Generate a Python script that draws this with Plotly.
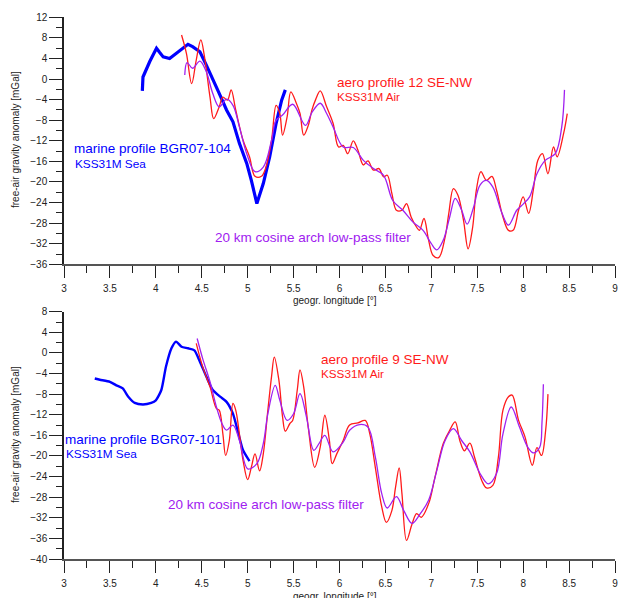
import plotly.graph_objects as go

# ---------------- data: upper panel (profile 12 / BGR07-104) ----------------
top_marine_lon = [3.853, 3.86, 3.934, 4.007, 4.04, 4.08, 4.15, 4.22, 4.30, 4.35, 4.40, 4.48, 4.55,
                  4.62, 4.69, 4.77, 4.84, 4.91, 4.99, 5.04, 5.10, 5.17, 5.24, 5.31, 5.37, 5.41]
top_marine_val = [-2.3, 0.4, 3.4, 6.0, 5.2, 4.3, 4.0, 5.0, 6.0, 6.75, 6.3, 5.3, 2.7,
                  -0.2, -2.8, -6.0, -8.3, -12.5, -16.4, -19.7, -24.2, -20.3, -15.1, -8.6, -4.1, -2.1]

top_aero_lon = [4.28, 4.333, 4.39, 4.44, 4.49, 4.53, 4.59, 4.63, 4.69, 4.73, 4.78, 4.82, 4.87, 4.95,
                5.02, 5.08, 5.15, 5.20, 5.26, 5.31, 5.35, 5.38, 5.43, 5.47, 5.53, 5.57, 5.61, 5.66,
                5.70, 5.74, 5.79, 5.86, 5.93, 5.99, 6.04, 6.09, 6.15, 6.20, 6.26, 6.31, 6.37, 6.43,
                6.48, 6.52, 6.57, 6.62, 6.68, 6.73, 6.78, 6.84, 6.87, 6.92, 6.97, 7.02, 7.08, 7.15,
                7.19, 7.24, 7.29, 7.35, 7.40, 7.45, 7.49, 7.54, 7.60, 7.66, 7.71, 7.78, 7.84, 7.89,
                7.95, 8.00, 8.06, 8.11, 8.16, 8.21, 8.27, 8.33, 8.37, 8.44, 8.48]
top_aero_val = [8.56, 5.0, -0.9, 3.7, 7.6, 4.3, -3.5, -7.7, -5.4, -3.5, -4.1, -2.1, -6.0, -11.9,
                -15.1, -18.9, -18.9, -17.1, -11.9, -5.1, -6.7, -10.9, -7.3, -2.5, -4.7, -6.7, -10.9, -9.0,
                -6.0, -4.0, -2.3, -5.4, -8.6, -13.2, -12.9, -14.5, -12.0, -13.8, -16.7, -15.9, -17.7, -17.4,
                -19.0, -18.7, -22.2, -25.5, -25.5, -24.2, -26.8, -28.8, -29.4, -27.1, -31.3, -34.3, -34.7, -30.7,
                -26.1, -21.3, -22.6, -27.4, -33.0, -28.8, -21.6, -18.0, -19.7, -18.9, -21.6, -26.8, -29.4, -29.4,
                -25.5, -22.9, -26.1, -21.6, -15.8, -14.5, -18.4, -13.2, -15.1, -10.6, -6.7]

top_filter_lon = [4.315, 4.34, 4.40, 4.48, 4.55, 4.62, 4.69, 4.77, 4.84, 4.91, 4.99, 5.08, 5.17, 5.26,
                  5.31, 5.38, 5.49, 5.63, 5.70, 5.79, 5.86, 5.93, 6.04, 6.15, 6.26, 6.37, 6.48, 6.58,
                  6.69, 6.80, 6.91, 7.00, 7.06, 7.13, 7.20, 7.26, 7.33, 7.39, 7.46, 7.53, 7.60, 7.67,
                  7.77, 7.84, 7.93, 8.00, 8.07, 8.15, 8.24, 8.35, 8.42, 8.45]
top_filter_val = [0.8, 3.2, 2.1, 3.5, 1.4, -2.8, -5.4, -3.9, -5.1, -9.3, -14.5, -18.0, -17.1, -11.9,
                  -8.0, -7.0, -4.9, -9.0, -6.5, -4.7, -6.7, -9.3, -13.2, -13.3, -15.8, -17.4, -18.7, -23.6,
                  -25.5, -27.8, -29.4, -32.0, -33.2, -31.3, -26.8, -23.2, -25.5, -28.2, -24.9, -20.6, -19.7, -21.0,
                  -26.1, -28.4, -25.5, -24.3, -22.9, -18.4, -15.8, -14.5, -9.3, -2.1]

# ---------------- data: lower panel (profile 9 / BGR07-101) ----------------
bot_marine_lon = [3.335, 3.39, 3.50, 3.57, 3.64, 3.70, 3.77, 3.86, 3.95, 4.00, 4.06, 4.11, 4.17,
                  4.22, 4.28, 4.35, 4.42, 4.48, 4.55, 4.62, 4.70, 4.77, 4.84, 4.90, 4.95, 5.02]
bot_marine_val = [-4.97, -5.2, -5.6, -6.3, -6.9, -8.5, -9.7, -10.0, -9.7, -9.2, -7.2, -2.7, 0.9,
                  2.2, 1.2, 0.9, 0.5, -1.7, -4.6, -7.2, -8.5, -9.5, -11.8, -15.7, -18.9, -21.0]

bot_aero_lon = [4.44, 4.51, 4.59, 4.66, 4.69, 4.73, 4.76, 4.80, 4.84, 4.87, 4.91, 4.95, 5.00, 5.04,
                5.08, 5.13, 5.17, 5.22, 5.26, 5.29, 5.34, 5.38, 5.41, 5.46, 5.49, 5.54, 5.57, 5.61,
                5.66, 5.73, 5.79, 5.84, 5.89, 5.92, 5.97, 6.04, 6.11, 6.20, 6.28, 6.33, 6.39, 6.46,
                6.51, 6.57, 6.61, 6.65, 6.68, 6.73, 6.79, 6.84, 6.89, 6.97, 7.04, 7.13, 7.20, 7.26,
                7.31, 7.36, 7.42, 7.47, 7.55, 7.60, 7.67, 7.73, 7.78, 7.84, 7.88, 7.95, 8.02, 8.10,
                8.15, 8.20, 8.245, 8.27]
bot_aero_val = [1.85, -2.7, -6.6, -10.8, -11.1, -15.7, -19.9, -17.0, -9.8, -11.1, -15.7, -20.9, -24.6, -22.2,
                -19.6, -22.9, -19.6, -11.1, -4.6, -0.8, -5.3, -12.4, -15.2, -13.7, -13.1, -7.2, -3.3, -6.6,
                -14.5, -22.2, -18.3, -12.1, -17.0, -21.5, -19.6, -17.0, -14.0, -13.6, -13.1, -15.7, -22.2, -29.9,
                -32.9, -30.6, -26.1, -22.3, -27.3, -36.4, -33.2, -31.2, -31.9, -29.3, -24.1, -17.6, -15.0, -13.4,
                -17.0, -19.0, -17.5, -20.2, -24.8, -26.2, -25.7, -20.2, -11.1, -8.5, -8.2, -13.1, -16.3, -21.8,
                -18.4, -19.9, -15.0, -8.0]

bot_filter_lon = [4.45, 4.51, 4.59, 4.66, 4.72, 4.77, 4.84, 4.91, 5.00, 5.10, 5.17, 5.22, 5.30, 5.35,
                  5.43, 5.50, 5.57, 5.64, 5.72, 5.78, 5.84, 5.93, 6.04, 6.11, 6.22, 6.31, 6.39, 6.46,
                  6.52, 6.62, 6.70, 6.79, 6.88, 6.97, 7.06, 7.15, 7.24, 7.33, 7.42, 7.53, 7.62, 7.71,
                  7.78, 7.87, 7.96, 8.05, 8.11, 8.18, 8.205, 8.22]
bot_filter_val = [2.8, -1.1, -5.6, -10.5, -13.7, -15.0, -14.0, -17.0, -22.5, -21.5, -17.6, -11.8, -6.3, -9.2,
                  -13.1, -11.8, -7.9, -12.4, -18.9, -17.5, -16.0, -19.2, -17.3, -15.0, -13.9, -14.4, -20.2, -27.3,
                  -30.1, -27.9, -30.6, -33.1, -31.2, -28.6, -22.8, -17.0, -14.7, -17.0, -19.2, -23.4, -25.4, -23.4,
                  -15.7, -10.5, -14.4, -18.3, -19.4, -18.3, -13.5, -6.1]

x_tick_vals = [3, 3.5, 4, 4.5, 5, 5.5, 6, 6.5, 7, 7.5, 8, 8.5, 9]
x_tick_text = ["3", "3.5", "4", "4.5", "5", "5.5", "6", "6.5", "7", "7.5", "8", "8.5", "9"]
top_y_ticks = [12, 8, 4, 0, -4, -8, -12, -16, -20, -24, -28, -32, -36]
bot_y_ticks = [8, 4, 0, -4, -8, -12, -16, -20, -24, -28, -32, -36, -40]

BLUE = "#0000FF"
RED = "#FF1A1A"
PURPLE = "#A020F0"
FONT = "Liberation Sans, Arial, sans-serif"

W, H = 619, 598
L, R = 64, 4

fig = go.Figure()
fig.add_trace(go.Scatter(x=top_marine_lon, y=top_marine_val, mode="lines",
                         line=dict(color=BLUE, width=3.2), xaxis="x", yaxis="y"))
fig.add_trace(go.Scatter(x=top_aero_lon, y=top_aero_val, mode="lines",
                         line=dict(color=RED, width=1.3, shape="spline", smoothing=1.0), xaxis="x", yaxis="y"))
fig.add_trace(go.Scatter(x=top_filter_lon, y=top_filter_val, mode="lines",
                         line=dict(color=PURPLE, width=1.3, shape="spline", smoothing=1.0), xaxis="x", yaxis="y"))
fig.add_trace(go.Scatter(x=bot_marine_lon, y=bot_marine_val, mode="lines",
                         line=dict(color=BLUE, width=2.4, shape="spline", smoothing=0.6), xaxis="x2", yaxis="y2"))
fig.add_trace(go.Scatter(x=bot_aero_lon, y=bot_aero_val, mode="lines",
                         line=dict(color=RED, width=1.3, shape="spline", smoothing=1.0), xaxis="x2", yaxis="y2"))
fig.add_trace(go.Scatter(x=bot_filter_lon, y=bot_filter_val, mode="lines",
                         line=dict(color=PURPLE, width=1.3, shape="spline", smoothing=1.0), xaxis="x2", yaxis="y2"))


def py2paper(py):
    return 1 - py / H


def px2paper(px):
    return (px - L) / (W - L - R)


xaxis_common = dict(range=[3, 9], tickvals=x_tick_vals, ticktext=x_tick_text, ticks="outside",
                    ticklen=12, tickwidth=1.2, tickcolor="#222", showline=True, linecolor="#555",
                    linewidth=2, showgrid=False, zeroline=False, ticklabelstandoff=2, automargin=False,
                    tickfont=dict(family=FONT, size=10, color="#222"),
                    minor=dict(dtick=0.25, tick0=3, ticks="outside", ticklen=7, tickwidth=1.2,
                               tickcolor="#222", showgrid=False))
yaxis_common = dict(ticks="outside", ticklen=13, tickwidth=1.2, tickcolor="#222", showline=True,
                    linecolor="#222", linewidth=1.5, showgrid=False, zeroline=False, automargin=False,
                    tickfont=dict(family=FONT, size=10, color="#222"),
                    minor=dict(dtick=2, ticks="outside", ticklen=6, tickwidth=1.2,
                               tickcolor="#222", showgrid=False))

fig.update_layout(
    width=W, height=H,
    margin=dict(l=L, r=R, t=0, b=0, autoexpand=False),
    paper_bgcolor="white", plot_bgcolor="white",
    showlegend=False,
    font=dict(family=FONT, size=10, color="#222"),
    xaxis=dict(domain=[0, 1], anchor="y", **xaxis_common),
    yaxis=dict(domain=[py2paper(264.3), py2paper(17.3)], anchor="x", range=[-36, 12],
               tickvals=top_y_ticks, **yaxis_common),
    xaxis2=dict(domain=[0, 1], anchor="y2", **xaxis_common),
    yaxis2=dict(domain=[py2paper(559), py2paper(311.7)], anchor="x2", range=[-40, 8],
                tickvals=bot_y_ticks, **yaxis_common),
)

ann = []


def label(text, px, py, color, size, xanchor="left", angle=0):
    ann.append(dict(text=text, x=px2paper(px), y=py2paper(py), xref="paper", yref="paper",
                    xanchor=xanchor, yanchor="middle", showarrow=False, textangle=angle,
                    font=dict(family=FONT, size=size, color=color)))


# upper panel labels
label("aero profile 12 SE-NW", 335, 82.5, RED, 13.5)
label("KSS31M Air", 335, 96.5, RED, 11.7)
label("marine profile BGR07-104", 71.5, 148.3, BLUE, 13.5)
label("KSS31M Sea", 73, 164, BLUE, 11.8)
label("20 km cosine arch low-pass filter", 213, 237.3, PURPLE, 13.5)
# lower panel labels
label("aero profile 9 SE-NW", 319, 359.5, RED, 13.5)
label("KSS31M Air", 319, 373.5, RED, 11.7)
label("marine profile BGR07-101", 63.3, 439.3, BLUE, 13.5)
label("KSS31M Sea", 64.3, 454, BLUE, 11.8)
label("20 km cosine arch low-pass filter", 166.3, 504, PURPLE, 13.5)
# axis titles
label("free-air gravity anomaly [mGal]", 15, 140, "#222", 10, xanchor="center", angle=-90)
label("free-air gravity anomaly [mGal]", 15, 435, "#222", 10, xanchor="center", angle=-90)
label("geogr. longitude [°]", 335, 300, "#222", 10, xanchor="center")
label("geogr. longitude [°]", 335, 596.5, "#222", 10, xanchor="center")

fig.update_layout(annotations=ann)

# remove the default page margin so the figure sits at the window origin
fig.write_html("out.html", config={"displayModeBar": False},
               post_script="document.body.style.margin='0';document.body.style.overflow='hidden';")
